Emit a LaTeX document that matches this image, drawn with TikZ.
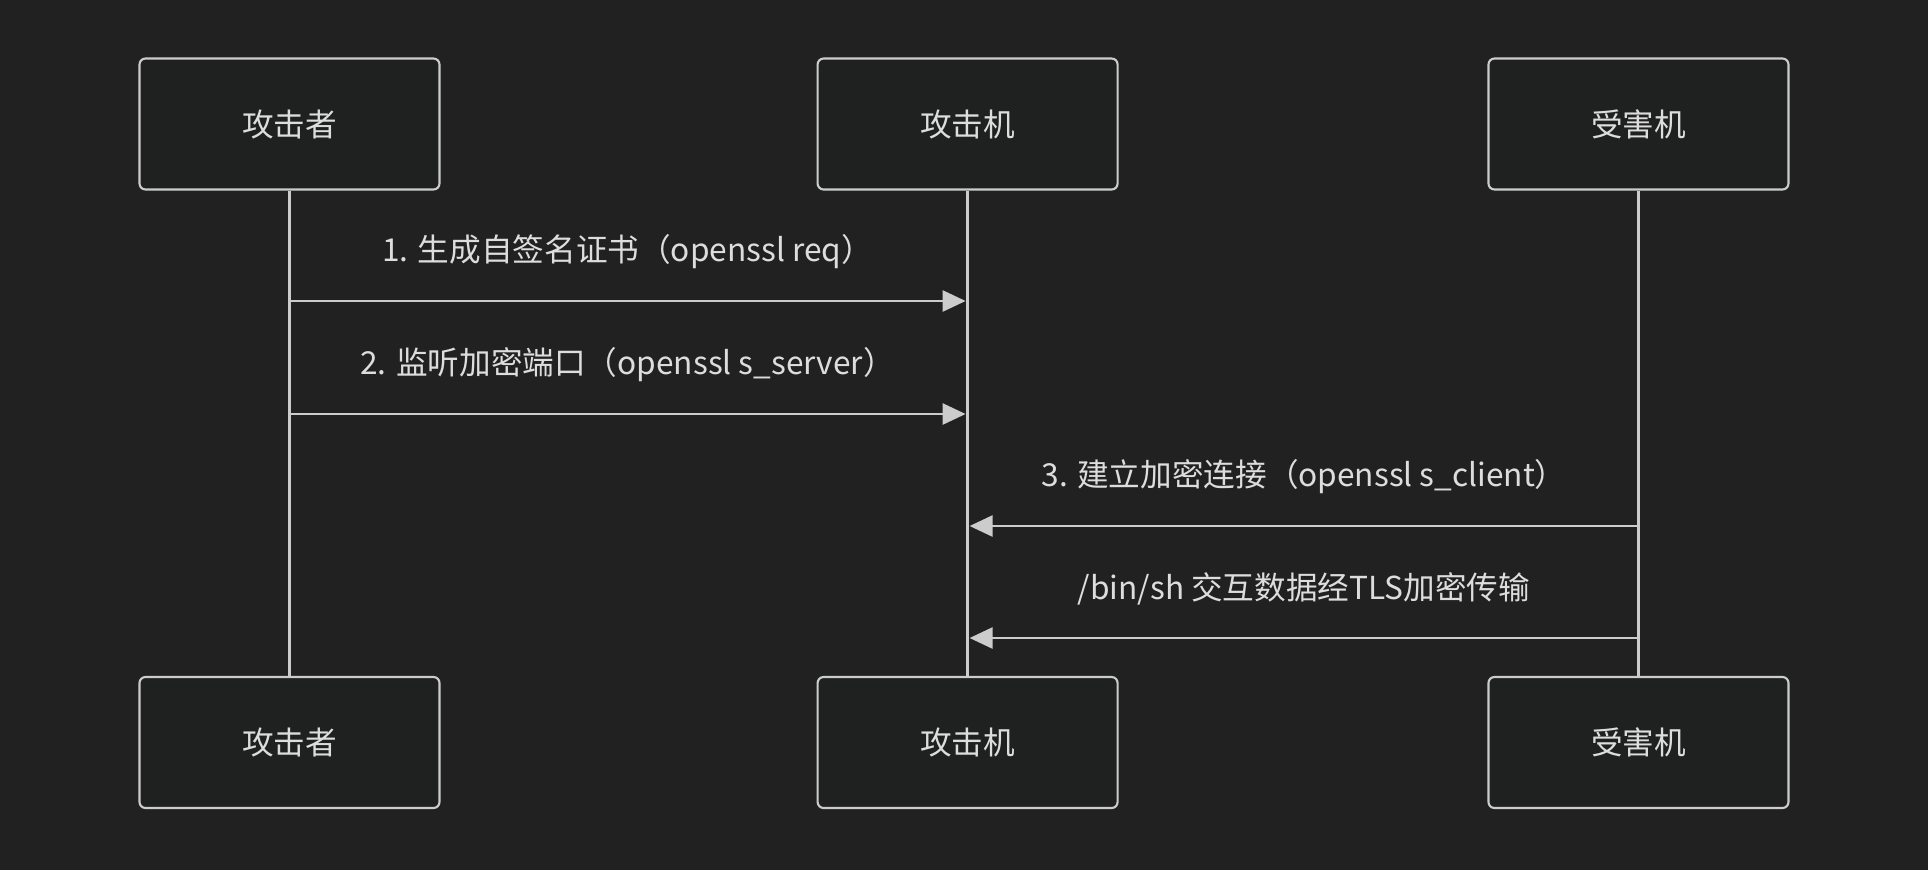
\documentclass[tikz,border=0pt]{standalone}
\usepackage{fontspec}
\setmainfont{Noto Sans CJK SC}
\usepackage{tikz}
\usetikzlibrary{positioning, arrows.meta, calc}
\definecolor{bgcol}{HTML}{212121}
\definecolor{boxcol}{HTML}{1F2020}
\definecolor{linecol}{HTML}{CCCCCC}
\definecolor{textcol}{HTML}{DDDDDD}
\tikzset{
    actor/.style={draw=linecol, line width=1.2pt, fill=boxcol, rounded corners=0.12cm,
        minimum width=6cm, minimum height=2.62cm, text=textcol, font=\fontsize{18}{22}\selectfont}, % participant boxes
    lifeline/.style={draw=linecol, line width=2pt},
    msg/.style={draw=linecol, line width=1.5pt, -{Triangle[length=0.46cm, width=0.42cm, fill=linecol]}},
    msglabel/.style={text=textcol, font=\fontsize{18}{22}\selectfont},
}

\begin{document}
\begin{tikzpicture}
        \fill[bgcol] (0,0) rectangle (38.56,-17.4);
        \useasboundingbox (0,0) rectangle (38.56,-17.4);

        % top row
        \node[actor] (atk) at (5.79,-2.48) {攻击者};
        \node[actor, right=7.52cm of atk] (host) {攻击机};
        \node[actor, right=7.375cm of host] (vic) {受害机};

        % bottom row
        \node[actor] (atk-b) at (5.79,-14.85) {攻击者};
        \node[actor, right=7.52cm of atk-b] (host-b) {攻击机};
        \node[actor, right=7.375cm of host-b] (vic-b) {受害机};

        \draw[lifeline] (atk) -- (atk-b);
        \draw[lifeline] (host) -- (host-b);
        \draw[lifeline] (vic) -- (vic-b);

        \coordinate (m1a) at (atk |- 0,-6.02);
        \coordinate (m1b) at ([xshift=-0.04cm]host |- 0,-6.02);
        \coordinate (m2a) at (atk |- 0,-8.28);
        \coordinate (m2b) at ([xshift=-0.04cm]host |- 0,-8.28);
        \coordinate (m3a) at (vic |- 0,-10.52);
        \coordinate (m3b) at ([xshift=0.04cm]host |- 0,-10.52);
        \coordinate (m4a) at (vic |- 0,-12.76);
        \coordinate (m4b) at ([xshift=0.04cm]host |- 0,-12.76);

        \draw[msg] (m1a) -- (m1b);
        \draw[msg] (m2a) -- (m2b);
        \draw[msg] (m3a) -- (m3b);
        \draw[msg] (m4a) -- (m4b);

        \node[msglabel] (l1) at ($(m1a)!0.5!(m1b)+(0,0.99)$) {1. 生成自签名证书（openssl req）};
        \node[msglabel] (l2) at ($(m2a)!0.5!(m2b)+(0,0.99)$) {2. 监听加密端口（openssl s\_server）};
        \node[msglabel] (l3) at ($(m3a)!0.5!(m3b)+(0,0.99)$) {3. 建立加密连接（openssl s\_client）};
        \node[msglabel] (l4) at ($(m4a)!0.5!(m4b)+(0,0.99)$) {/bin/sh 交互数据经TLS加密传输};

    \end{tikzpicture}
\end{document}
